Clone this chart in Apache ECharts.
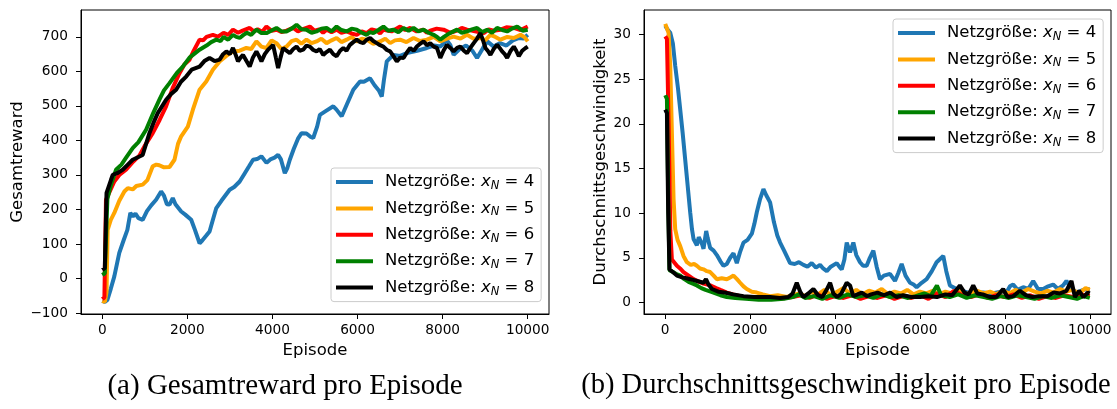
<!DOCTYPE html>
<html>
<head>
<meta charset="utf-8">
<script src="https://cdn.jsdelivr.net/npm/echarts@6/dist/echarts.min.js"></script>
<style>
html,body{margin:0;padding:0;background:#fff;}
#chart{width:1117px;height:409px;}
</style>
</head>
<body>
<div id="chart"></div>
<script>
// ---- data ----
const seriesNames = ["Netzgröße: x_N = 4","Netzgröße: x_N = 5","Netzgröße: x_N = 6","Netzgröße: x_N = 7","Netzgröße: x_N = 8"];
const netSizes = [4,5,6,7,8];
const xTicks = [0,2000,4000,6000,8000,10000];
const rewardTicks = [-100,0,100,200,300,400,500,600,700];
const speedTicks = [0,5,10,15,20,25,30];
const captionA = "(a) Gesamtreward pro Episode";
const captionB = "(b) Durchschnittsgeschwindigkeit pro Episode";

const rewardN4 = [[0,-65],[60,-68],[120,-62],[200,-30],[283,6],[350,45],[400,74],[500,110],[590,141],[660,190],[720,180],[780,188],[850,175],[950,170],[1050,195],[1150,212],[1265,228],[1383,252],[1450,240],[1520,215],[1580,214],[1657,233],[1720,215],[1855,194],[1950,185],[2090,170],[2180,140],[2287,102],[2350,110],[2450,125],[2522,136],[2600,170],[2680,204],[2800,225],[2994,257],[3100,265],[3230,281],[3350,305],[3450,325],[3544,344],[3640,346],[3740,354],[3860,335],[3950,345],[4050,350],[4133,358],[4200,345],[4290,305],[4350,320],[4408,344],[4500,375],[4600,405],[4684,421],[4800,420],[4900,410],[4958,407],[5050,440],[5115,474],[5250,485],[5430,499],[5500,490],[5627,470],[5750,505],[5900,547],[6058,571],[6150,570],[6294,580],[6400,560],[6500,545],[6570,527],[6620,575],[6687,629],[6844,648],[7000,645],[7158,653],[7400,660],[7630,668],[7800,675],[7945,672],[8100,690],[8180,677],[8259,648],[8400,665],[8550,675],[8700,660],[8809,639],[8950,668],[9050,687],[9200,672],[9350,682],[9500,675],[9650,690],[9800,697],[9900,695],[10000,706]];
const rewardN5 = [[0,-65],[60,-68],[100,-40],[126,141],[200,170],[283,190],[400,225],[519,252],[600,262],[715,258],[800,268],[950,272],[1060,285],[1186,325],[1270,330],[1340,328],[1450,322],[1580,323],[1697,344],[1780,390],[1855,412],[2011,440],[2130,489],[2287,547],[2444,571],[2600,605],[2758,629],[2916,645],[3072,658],[3230,660],[3386,668],[3500,665],[3623,687],[3740,672],[3858,668],[3980,690],[4094,682],[4210,665],[4330,672],[4450,688],[4566,692],[4680,680],[4800,692],[4920,682],[5037,687],[5150,695],[5272,682],[5390,690],[5508,697],[5620,685],[5744,692],[5860,700],[5980,687],[6100,695],[6215,692],[6370,680],[6530,687],[6650,695],[6766,682],[6880,690],[7001,692],[7150,685],[7316,697],[7470,688],[7630,692],[7790,700],[7945,687],[8100,695],[8259,701],[8420,695],[8573,706],[8730,695],[8887,697],[9000,690],[9123,706],[9240,700],[9358,692],[9520,700],[9673,697],[9830,706],[9920,700],[10000,687]];
const rewardN6 = [[0,-60],[50,-55],[87,228],[150,245],[283,281],[400,300],[558,315],[700,335],[872,356],[1000,385],[1186,421],[1350,460],[1500,499],[1650,550],[1815,595],[1930,620],[2051,634],[2150,660],[2287,692],[2370,690],[2450,700],[2600,706],[2720,701],[2850,712],[2960,706],[3072,721],[3190,712],[3300,718],[3465,726],[3560,716],[3650,722],[3760,715],[3858,730],[3980,718],[4100,721],[4210,714],[4330,718],[4487,726],[4600,716],[4700,722],[4880,730],[4990,718],[5100,722],[5190,712],[5272,721],[5390,714],[5508,721],[5620,712],[5744,716],[5860,710],[5980,706],[6100,716],[6215,711],[6330,722],[6450,718],[6530,710],[6608,721],[6800,716],[7001,730],[7120,720],[7237,726],[7390,716],[7551,721],[7630,712],[7709,718],[7860,724],[8022,721],[8180,712],[8338,718],[8450,726],[8573,721],[8760,716],[8966,711],[9080,722],[9200,718],[9358,721],[9500,728],[9673,726],[9830,720],[10000,730]];
const rewardN7 = [[0,10],[60,15],[120,230],[200,270],[322,315],[450,330],[560,350],[715,378],[850,395],[1030,431],[1200,480],[1343,518],[1450,545],[1580,566],[1750,595],[1893,614],[2050,640],[2287,663],[2450,675],[2560,685],[2680,692],[2780,688],[2850,700],[2960,692],[3072,706],[3150,700],[3230,697],[3320,706],[3400,712],[3500,706],[3623,721],[3740,711],[3858,711],[4000,720],[4094,726],[4210,716],[4330,716],[4450,724],[4566,735],[4680,722],[4800,721],[4920,712],[5037,716],[5150,724],[5272,726],[5390,716],[5508,730],[5620,720],[5744,716],[5860,724],[5980,721],[6100,712],[6215,706],[6290,714],[6372,711],[6490,720],[6608,730],[6720,718],[6844,721],[6960,714],[7080,726],[7200,718],[7316,726],[7430,716],[7551,721],[7670,712],[7788,706],[7870,700],[7945,692],[8030,700],[8102,706],[8220,714],[8338,721],[8450,712],[8573,716],[8690,722],[8809,726],[8930,714],[9045,721],[9160,712],[9280,726],[9400,720],[9516,716],[9630,724],[9752,730],[9880,718],[10000,721]];
const rewardN8 = [[0,25],[60,30],[100,248],[205,286],[245,300],[350,305],[480,315],[600,330],[715,344],[850,352],[950,358],[1108,421],[1200,450],[1304,479],[1500,518],[1620,535],[1736,547],[1850,570],[1972,585],[2100,605],[2287,614],[2400,630],[2522,639],[2640,630],[2758,634],[2840,650],[2916,658],[3000,650],[3072,668],[3130,650],[3190,629],[3250,640],[3308,648],[3390,630],[3465,614],[3540,640],[3623,658],[3680,645],[3741,629],[3820,650],[3898,663],[4015,677],[4080,640],[4133,610],[4190,640],[4250,668],[4330,660],[4408,653],[4490,665],[4566,672],[4640,660],[4722,663],[4800,675],[4880,672],[4960,662],[5037,658],[5110,665],[5194,648],[5270,656],[5351,663],[5430,650],[5508,644],[5590,660],[5666,668],[5740,660],[5822,677],[5900,685],[5980,692],[6060,685],[6137,682],[6215,692],[6294,697],[6370,688],[6451,682],[6530,676],[6608,672],[6690,662],[6766,658],[6840,645],[6923,629],[7000,640],[7080,639],[7160,655],[7237,668],[7320,660],[7395,672],[7470,680],[7551,687],[7630,676],[7709,682],[7790,672],[7866,668],[7945,639],[8020,660],[8102,677],[8180,668],[8259,658],[8340,668],[8416,672],[8500,660],[8573,653],[8650,668],[8730,682],[8810,695],[8887,711],[8950,690],[9005,668],[9060,660],[9123,648],[9200,665],[9280,677],[9340,668],[9398,658],[9460,650],[9516,639],[9600,660],[9673,672],[9730,660],[9790,644],[9870,660],[9950,668],[10000,672]];

const speedN4 = [[0,31],[50,30.6],[118,30.2],[180,29],[235,26.5],[300,24],[353,21.6],[410,19],[470,16],[530,13],[588,10.1],[630,8.2],[667,7.1],[745,6.4],[790,7.3],[824,7.5],[870,6.5],[902,6.0],[940,7.2],[965,8.0],[1000,7.2],[1059,6.1],[1140,5.8],[1216,5.3],[1300,4.6],[1373,4.1],[1450,4.3],[1530,5.0],[1608,5.5],[1686,4.4],[1760,5.6],[1843,6.7],[1940,7.0],[2040,7.7],[2100,8.8],[2157,10.1],[2230,11.5],[2313,12.7],[2380,12.0],[2470,11.2],[2560,9.0],[2640,7.5],[2706,6.7],[2800,5.8],[2941,4.4],[3050,4.3],[3150,4.5],[3255,4.2],[3350,4.0],[3450,4.4],[3550,3.9],[3647,4.2],[3720,3.8],[3805,3.5],[3900,4.0],[4039,4.4],[4100,4.0],[4157,3.7],[4220,4.8],[4275,6.7],[4353,5.6],[4431,6.7],[4500,5.3],[4588,4.5],[4660,4.1],[4745,4.1],[4820,5.0],[4902,5.8],[4980,4.0],[5059,2.6],[5150,3.0],[5294,3.2],[5412,2.4],[5490,3.3],[5569,4.3],[5660,3.0],[5765,2.2],[5850,2.0],[5922,1.7],[6040,2.2],[6157,2.6],[6280,3.5],[6392,4.5],[6549,5.2],[6620,3.5],[6706,1.9],[6863,1.5],[7000,1.3],[7200,1.0],[7490,1.1],[7700,1.0],[7900,1.2],[8039,1.1],[8120,1.8],[8196,2.0],[8300,1.4],[8431,1.7],[8550,1.5],[8667,2.4],[8780,1.5],[8902,1.5],[9020,1.8],[9137,2.0],[9250,1.5],[9372,1.9],[9450,2.4],[9560,1.6],[9686,1.1],[9850,1.4],[10000,1.5]];
const speedN5 = [[0,31.2],[40,31],[78,30.2],[118,26.5],[157,19],[196,11.6],[235,8.2],[290,7.0],[353,6.3],[430,5.2],[510,4.5],[600,4.2],[680,4.3],[745,4.1],[820,3.8],[902,3.7],[980,3.5],[1059,3.4],[1140,3.0],[1216,2.6],[1330,2.7],[1451,2.6],[1530,2.8],[1608,3.0],[1690,2.6],[1765,2.2],[1843,1.8],[1921,1.5],[2040,1.2],[2157,1.1],[2300,0.9],[2470,0.7],[2650,0.8],[2863,0.6],[3000,0.8],[3150,1.0],[3300,0.7],[3450,1.2],[3600,0.9],[3750,1.4],[3900,0.8],[4050,1.2],[4200,1.6],[4350,1.0],[4500,1.4],[4650,0.9],[4800,1.3],[4950,1.1],[5100,1.5],[5250,0.9],[5400,1.2],[5550,1.0],[5700,1.4],[5850,0.9],[6000,1.2],[6150,1.0],[6300,1.3],[6450,0.9],[6600,1.2],[6750,1.0],[6900,1.4],[7050,0.9],[7200,1.1],[7350,1.3],[7500,1.0],[7650,1.2],[7800,0.9],[7950,1.3],[8100,1.0],[8250,1.4],[8400,1.1],[8550,1.5],[8700,1.2],[8850,1.0],[9000,1.3],[9150,1.1],[9300,1.5],[9450,1.2],[9600,1.4],[9750,1.0],[9900,1.6],[10000,1.4]];
const speedN6 = [[0,29.8],[40,29.5],[80,20],[120,8],[157,4.8],[200,4.6],[275,4.1],[350,3.8],[431,3.4],[550,3.0],[667,2.6],[800,2.3],[900,2.1],[1059,1.9],[1200,1.6],[1300,1.4],[1451,1.1],[1600,0.9],[1843,0.6],[2100,0.4],[2400,0.4],[2700,0.4],[3000,0.6],[3200,0.8],[3400,0.5],[3600,0.9],[3800,0.4],[4000,0.7],[4200,0.5],[4400,0.8],[4600,0.4],[4800,0.7],[5000,0.5],[5200,0.8],[5400,0.4],[5600,0.7],[5800,0.5],[6000,0.8],[6200,0.4],[6400,1.0],[6600,0.6],[6800,1.3],[7000,0.8],[7200,0.6],[7400,0.9],[7600,0.5],[7800,0.8],[8000,0.6],[8200,0.9],[8400,0.5],[8600,0.8],[8800,0.4],[9000,0.7],[9200,0.5],[9400,0.8],[9600,0.6],[9800,0.9],[10000,0.7]];
const speedN7 = [[0,23.2],[40,22.8],[70,12],[100,3.6],[180,3.4],[250,3.2],[353,3.0],[450,2.6],[550,2.3],[650,2.1],[745,1.9],[850,1.6],[950,1.4],[1137,1.1],[1300,0.8],[1450,0.6],[1650,0.5],[1900,0.4],[2200,0.3],[2500,0.3],[2800,0.4],[3000,0.6],[3150,0.9],[3300,0.5],[3500,0.7],[3700,0.4],[3900,0.8],[4100,0.5],[4300,0.9],[4500,0.6],[4700,0.8],[4900,0.5],[5100,0.9],[5300,0.6],[5500,0.8],[5700,0.5],[5900,0.7],[6100,1.0],[6250,0.7],[6400,1.9],[6500,0.8],[6700,0.6],[6900,0.9],[7100,0.5],[7300,0.8],[7500,0.6],[7700,0.4],[7900,0.7],[8100,0.5],[8300,0.8],[8500,0.6],[8700,0.4],[8900,0.7],[9100,0.5],[9300,0.8],[9500,0.6],[9700,0.4],[9850,0.7],[10000,0.5]];
const speedN8 = [[0,21.6],[40,21.2],[70,10],[100,3.7],[180,3.4],[275,3.0],[400,2.8],[500,2.7],[588,2.6],[750,2.4],[902,2.2],[960,2.6],[1020,2.0],[1100,1.5],[1250,1.2],[1400,1.1],[1600,0.9],[1843,0.7],[2100,0.6],[2470,0.6],[2700,0.5],[2900,0.6],[3000,1.0],[3098,2.2],[3180,1.2],[3255,0.6],[3370,1.0],[3490,1.5],[3600,0.8],[3700,0.6],[3800,1.4],[3884,2.2],[3960,1.0],[4050,0.6],[4150,1.0],[4275,2.2],[4353,1.9],[4430,0.7],[4530,0.9],[4630,1.1],[4750,0.7],[4850,0.9],[5000,1.1],[5150,0.8],[5300,1.1],[5450,0.6],[5600,0.8],[5800,0.6],[6000,0.6],[6200,0.7],[6400,0.6],[6600,0.9],[6760,0.8],[6941,1.9],[7050,1.1],[7150,0.9],[7255,1.9],[7350,1.0],[7480,0.9],[7650,0.6],[7800,0.6],[7960,1.5],[8060,0.6],[8200,0.7],[8353,1.3],[8500,0.8],[8650,0.6],[8800,0.7],[9000,0.7],[9150,1.1],[9300,1.0],[9450,1.3],[9569,2.4],[9650,0.6],[9750,1.3],[9850,0.6],[9950,1.1],[10000,1.0]];

const rewardData = [rewardN4, rewardN5, rewardN6, rewardN7, rewardN8];
const speedData = [speedN4, speedN5, speedN6, speedN7, speedN8];
const colors = ['#1f77b4','#ffa500','#ff0000','#008000','#000000'];

// ---- chart ----
const FONT = 'DejaVu Sans';
const chart = echarts.init(document.getElementById('chart'), null, {renderer:'canvas'});

function tickFmt(v){ return v < 0 ? '\u2212' + String(-v) : String(v); }
function legendFormatter(name){
  const i = seriesNames.indexOf(name);
  return '{a|Netzgröße: }{x|x}{s|N}{a| = ' + netSizes[i] + '}';
}
const legendRich = {
  a:{fontFamily:FONT,fontSize:16.5,color:'#000',lineHeight:20},
  x:{fontFamily:FONT,fontSize:16.5,fontStyle:'italic',color:'#000',lineHeight:20},
  s:{fontFamily:FONT,fontSize:11.5,fontStyle:'italic',color:'#000',lineHeight:10,verticalAlign:'bottom'}
};
function makeLegend(left, top){
  return {
    data: seriesNames, orient:'vertical', left:left, top:top,
    icon:'rect', itemWidth:37, itemHeight:4, itemGap:6.4,
    padding:[4,7,4,5],
    backgroundColor:'rgba(255,255,255,0.8)', borderColor:'#cccccc', borderWidth:1, borderRadius:3,
    selectedMode:false,
    formatter: legendFormatter,
    textStyle:{padding:[0,0,0,7], rich:legendRich, lineHeight:20}
  };
}
function xAxisDef(gridIndex){
  return {
    type:'value', gridIndex:gridIndex, min:-500, max:10500,
    name:'Episode', nameLocation:'middle', nameGap:26,
    nameTextStyle:{fontFamily:FONT,fontSize:16.5,color:'#000'},
    axisLine:{show:true,onZero:false,lineStyle:{color:'#000',width:1}},
    axisTick:{show:true,length:5,lineStyle:{color:'#000'},customValues:xTicks},
    axisLabel:{fontFamily:FONT,fontSize:13.7,color:'#000',margin:9,customValues:xTicks,formatter:tickFmt},
    splitLine:{show:false}
  };
}
function yAxisDef(gridIndex, min, max, ticks, name, gap){
  return {
    type:'value', gridIndex:gridIndex, min:min, max:max,
    name:name, nameLocation:'middle', nameGap:gap, nameRotate:90,
    nameTextStyle:{fontFamily:FONT,fontSize:16.5,color:'#000'},
    axisLine:{show:true,onZero:false,lineStyle:{color:'#000',width:1}},
    axisTick:{show:true,length:5,lineStyle:{color:'#000'},customValues:ticks},
    axisLabel:{fontFamily:FONT,fontSize:13.7,color:'#000',margin:13,customValues:ticks,formatter:tickFmt},
    splitLine:{show:false}
  };
}

const series = [];
rewardData.forEach((d,i)=>{
  series.push({name:seriesNames[i], type:'line', xAxisIndex:0, yAxisIndex:0, data:d,
    showSymbol:false, symbol:'none', lineStyle:{width:4,color:colors[i]}, itemStyle:{color:colors[i]}, animation:false, z:2+i});
});
speedData.forEach((d,i)=>{
  series.push({name:seriesNames[i], type:'line', xAxisIndex:1, yAxisIndex:1, data:d,
    showSymbol:false, symbol:'none', lineStyle:{width:4,color:colors[i]}, itemStyle:{color:colors[i]}, animation:false, z:2+i});
});

chart.setOption({
  animation:false,
  backgroundColor:'#fff',
  grid:[
    {left:81, top:10, width:468, height:304, show:true, borderColor:'#000', borderWidth:1, backgroundColor:'transparent'},
    {left:644, top:10, width:467, height:304, show:true, borderColor:'#000', borderWidth:1, backgroundColor:'transparent'}
  ],
  xAxis:[xAxisDef(0), xAxisDef(1)],
  yAxis:[
    yAxisDef(0, -103, 778, rewardTicks, 'Gesamtreward', 53),
    yAxisDef(1, -1.3, 32.75, speedTicks, 'Durchschnittsgeschwindigkeit', 34)
  ],
  legend:[makeLegend(331,168), makeLegend(893,19)],
  series:series,
  graphic:[
    {type:'text', x:285, y:386, style:{text:captionA, textAlign:'center', textVerticalAlign:'middle', fontFamily:'Liberation Serif', fontSize:29, fill:'#000'}},
    {type:'text', x:846, y:386, style:{text:captionB, textAlign:'center', textVerticalAlign:'middle', fontFamily:'Liberation Serif', fontSize:28.5, fill:'#000'}}
  ]
});
</script>
</body>
</html>
